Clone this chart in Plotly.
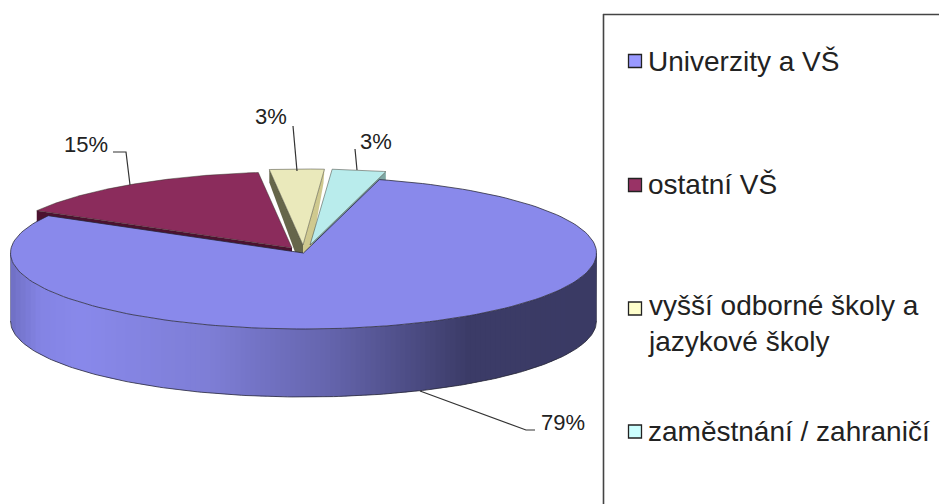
import numpy as np
import plotly.graph_objects as go

categories = ["Univerzity a VŠ", "ostatní VŠ", "vyšší odborné školy a<br>jazykové školy", "zaměstnání / zahraničí"]
values = [79, 15, 3, 3]
pct_labels = ["79%", "15%", "3%", "3%"]

top_colors = ["#8989EB", "#8B2C5C", "#EAE9BB", "#B9ECEC"]
swatch_colors = ["#9999FF", "#993366", "#FFFFCC", "#CCFFFF"]

W, H = 939, 504
RX, RY, DEPTH = 293, 76, 68
START = 15.0
CENTERS = [(303.5, 253), (292, 248), (303, 245), (310, 245)]
OUT = "rgba(35,35,50,0.75)"

fig = go.Figure()


def poly(xs, ys, fill, line=None, lw=0.0):
    fig.add_trace(go.Scatter(
        x=list(xs), y=list(ys), mode="lines", fill="toself", fillcolor=fill,
        line=dict(color=line or fill, width=lw), hoverinfo="skip", showlegend=False))


def line(xs, ys, color="#333333", w=1.2):
    fig.add_trace(go.Scatter(x=list(xs), y=list(ys), mode="lines",
                             line=dict(color=color, width=w), hoverinfo="skip", showlegend=False))


total = sum(values)
edges = START + np.concatenate([[0], np.cumsum(values)]) / total * 360.0


def rim(i, n=160):
    th = np.radians(np.linspace(edges[i], edges[i + 1], n))
    cx, cy = CENTERS[i]
    return cx + RX * np.sin(th), cy - RY * np.cos(th)


def wedge(i):
    cx, cy = CENTERS[i]
    x, y = rim(i)
    return np.r_[cx, x, cx], np.r_[cy, y, cy]


def cut_face(i, which, d, fill):
    cx, cy = CENTERS[i]
    x, y = rim(i, 2)
    k = 0 if which == "start" else -1
    poly([x[k], cx, cx, x[k], x[k]], [y[k], cy, cy + d, y[k] + d, y[k]], fill)


# cut faces lying behind the blue top
cut_face(1, "start", DEPTH, "#4C1230")
cut_face(3, "end", 9, "#7FA8A4")
cx2, cy2 = CENTERS[2]
rx2, ry2 = rim(2, 2)
poly([rx2[0], cx2, cx2, cx2 - 8, rx2[0], rx2[0]],
     [ry2[0], cy2, cy2 + 9, cy2 + 7, ry2[0] + 13, ry2[0]], "#66664A")
poly([rx2[-1], cx2, cx2, cx2 + 9, rx2[-1] - 1, rx2[-1]],
     [ry2[-1], cy2, cy2 + 8, cy2 + 2, ry2[-1] + 14, ry2[-1]], "#CFC98F")

# blue side wall, shaded left to right
cx0, cy0 = CENTERS[0]
grad_x = [0.0, 0.05, 0.12, 0.34, 0.55, 0.78, 1.0]
grad_c = [(112, 112, 196), (132, 132, 228), (137, 137, 235), (126, 126, 214), (100, 100, 172), (60, 60, 104), (58, 58, 100)]
STEP = 5
for xl in np.arange(cx0 - RX, cx0 + RX, STEP):
    xr = min(xl + STEP + 1, cx0 + RX)
    xs = np.linspace(xl, xr, 5)
    yt = cy0 + RY * np.sqrt(np.clip(1 - ((xs - cx0) / RX) ** 2, 0, 1))
    f = (xl + STEP / 2 - (cx0 - RX)) / (2 * RX)
    c = [np.interp(f, grad_x, [g[j] for g in grad_c]) for j in range(3)]
    col = "rgb(%d,%d,%d)" % tuple(c)
    poly(np.r_[xs, xs[::-1]], np.r_[yt, (yt + DEPTH)[::-1]], col)

# outer outline of the side wall
th = np.radians(np.linspace(90, 270, 200))
line(cx0 + RX * np.sin(th), cy0 - RY * np.cos(th) + DEPTH, OUT, 1.0)
line([cx0 - RX, cx0 - RX], [cy0, cy0 + DEPTH], "rgba(60,60,90,0.5)", 0.8)
line([cx0 + RX, cx0 + RX], [cy0, cy0 + DEPTH], "rgba(30,30,50,0.6)", 0.8)

# top faces
x, y = wedge(0)
poly(x, y, top_colors[0], OUT, 1.0)
for i in (1, 2, 3):
    x, y = wedge(i)
    poly(x, y, top_colors[i], "rgba(50,50,40,0.6)", 0.8)

# leader lines
line([420, 526, 535], [391, 430, 430])
line([130, 126, 113], [185, 152, 152])
line([297, 293], [171, 126])
line([357, 355], [170, 149])

# percentage labels
pct_pos = [(563, 422), (85.5, 144), (271, 116), (376, 141)]
for (px, py), t in zip(pct_pos, pct_labels):
    fig.add_annotation(x=px, y=py, text=t, showarrow=False, xanchor="center", yanchor="middle",
                       font=dict(family="Liberation Sans", size=22, color="#222222"))

# legend
leg_y = [61, 185, 308.5, 431.5]
fig.add_trace(go.Scatter(
    x=[635] * 4, y=leg_y, mode="markers",
    marker=dict(symbol="square", size=13, color=swatch_colors, line=dict(color="#222222", width=1.3)),
    hoverinfo="skip", showlegend=False))
for cat, ty in zip(categories, [61, 184, 323.5, 431]):
    fig.add_annotation(x=646, y=ty, text=cat, showarrow=False, xanchor="left", yanchor="middle", align="left",
                       font=dict(family="Liberation Sans", size=28, color="#222222"))

fig.update_layout(
    width=W, height=H, margin=dict(l=0, r=0, t=0, b=0, pad=0),
    paper_bgcolor="white", plot_bgcolor="white", showlegend=False,
    xaxis=dict(range=[0, W], visible=False, fixedrange=True),
    yaxis=dict(range=[H, 0], visible=False, fixedrange=True),
    shapes=[
        dict(type="line", xref="x", yref="y", x0=603.5, x1=603.5, y0=14, y1=H, line=dict(color="#444444", width=1.6)),
        dict(type="line", xref="x", yref="y", x0=603, x1=W, y0=14.5, y1=14.5, line=dict(color="#444444", width=1.6)),
    ],
)
fig.write_html("out.html", config=dict(displayModeBar=False),
               post_script="document.body.style.margin='0';document.documentElement.style.overflow='hidden';")
